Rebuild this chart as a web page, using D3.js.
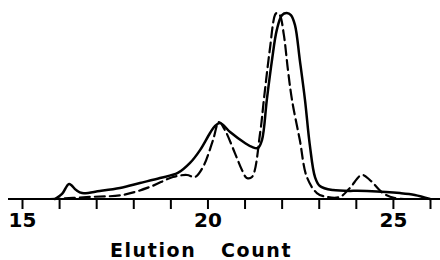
<!DOCTYPE html>
<html>
<head>
  <meta charset="utf-8">
  <title>Elution Count</title>
  <script src="https://d3js.org/d3.v7.min.js"></script>
  <style>
    body { margin: 0; background: #fff; }
    .axis text { font-family: "DejaVu Sans", sans-serif; font-weight: bold; font-size: 20px; }
    .axis line { stroke: #000; stroke-width: 2; }
    .trace { fill: none; stroke: #000; stroke-linejoin: round; stroke-linecap: round; }
  </style>
</head>
<body>
<div id="chart"></div>
<script>

const width = 440;
const height = 260;

// solid trace (elution count, relative response)
const solidX = [15.89, 16.08, 16.27, 16.46, 16.62, 17.10, 17.64, 18.18, 18.72, 19.20, 19.53, 19.80, 20.07, 20.20, 20.34, 20.61, 21.01, 21.20, 21.36, 21.47, 21.60, 21.74, 21.87, 22.01, 22.14, 22.25, 22.36, 22.49, 22.63, 22.76, 22.90, 23.03, 23.38, 24.30, 25.19, 25.59, 26.0];
const solidY = [0, 2.7, 8.1, 4.8, 3.2, 4.3, 5.9, 8.6, 11.3, 14.0, 19.4, 26.3, 35.5, 39.2, 40.9, 36.0, 30.1, 28.0, 27.4, 31.7, 53.2, 74.7, 90.9, 98.9, 100, 98.9, 93.5, 74.7, 53.2, 29.0, 11.8, 7.0, 4.8, 4.3, 3.2, 2.2, 0];

// dashed trace
const dashX = [15.75, 16.83, 17.72, 18.45, 19.07, 19.45, 19.66, 19.88, 20.15, 20.31, 20.47, 20.74, 20.93, 21.06, 21.20, 21.42, 21.52, 21.68, 21.82, 21.87, 21.95, 22.06, 22.17, 22.28, 22.49, 22.68, 22.95, 23.22, 23.57, 23.84, 24.16, 24.38, 24.73, 25.05, 25.46];
const dashY = [0, 1.1, 2.2, 6.5, 11.8, 12.9, 11.8, 17.2, 31.7, 41.4, 37.1, 24.7, 15.6, 11.3, 11.8, 35.5, 53.2, 80.1, 98.9, 100, 98.9, 88.2, 69.4, 53.2, 31.7, 11.8, 3.2, 1.1, 1.1, 5.9, 12.9, 10.2, 3.2, 0.5, 0];

const tickValues = [15, 16, 17, 18, 19, 20, 21, 22, 23, 24, 25, 26];
const tickLabels = {15: "15", 20: "20", 25: "25"};
const axisTitle = "Elution Count";

const x = d3.scaleLinear().domain([15, 26]).range([22, 430]);
const y = d3.scaleLinear().domain([0, 100]).range([199, 13]);

const svg = d3.select("#chart").append("svg")
    .attr("width", width)
    .attr("height", height);

// baseline runs past both ends of the scale
svg.append("line")
    .attr("x1", 8).attr("x2", width)
    .attr("y1", y(0)).attr("y2", y(0))
    .attr("stroke", "#000")
    .attr("stroke-width", 2);

const axis = svg.append("g")
    .attr("class", "axis")
    .attr("transform", `translate(0,${y(0)})`)
    .call(d3.axisBottom(x)
      .tickValues(tickValues)
      .tickSize(10)
      .tickPadding(4)
      .tickFormat(d => tickLabels[d] || ""));
axis.select(".domain").remove();

svg.append("text")
    .attr("x", 201)
    .attr("y", 257)
    .attr("text-anchor", "middle")
    .attr("font-family", "DejaVu Sans, sans-serif")
    .attr("font-weight", "bold")
    .attr("font-size", 19)
    .attr("letter-spacing", 1.6)
    .attr("xml:space", "preserve")
    .text(axisTitle.replace(" ", "   "));

const line = d3.line().curve(d3.curveCatmullRom.alpha(0.5));

svg.append("path")
    .attr("class", "trace")
    .attr("stroke-width", 2.5)
    .attr("d", line(solidX.map((d, i) => [x(d), y(solidY[i])])));

svg.append("path")
    .attr("class", "trace")
    .attr("stroke-width", 2.2)
    .attr("stroke-dasharray", "10,5")
    .attr("stroke-linecap", "butt")
    .attr("d", line(dashX.map((d, i) => [x(d), y(dashY[i])])));

</script>
</body>
</html>
